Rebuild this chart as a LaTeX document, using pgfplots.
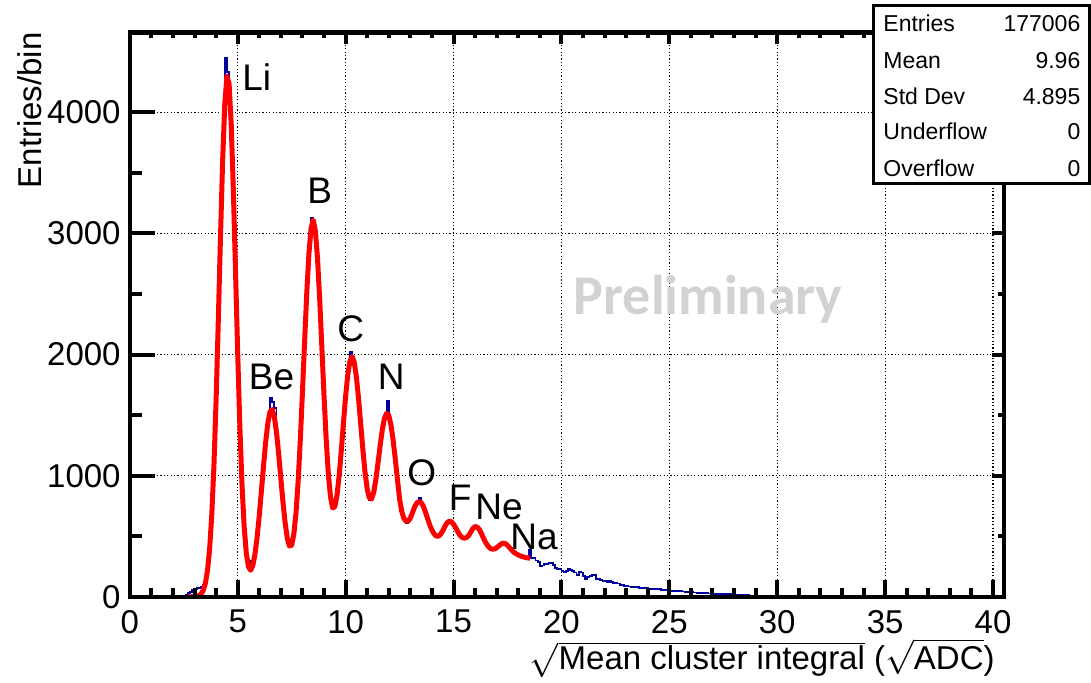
\documentclass[border=0pt]{standalone}
\usepackage{fontspec}
\setmainfont{Liberation Sans}
\newfontfamily\prelimfont{Carlito}
\usepackage{pgfplots}
\pgfplotsset{compat=1.18}

\definecolor{histblue}{RGB}{0,0,160}
\definecolor{prelimgray}{RGB}{210,210,210}

% 1 px of the reference = 0.5pt
\pgfplotsset{
  rootframe/.style={
    scale only axis, width=437pt, height=282.15pt,
    at={(64.9pt,43.1pt)}, anchor=south west,
    xmin=0, xmax=40.5, ymin=0, ymax=4659,
    axis line style={line width=2.2pt},
    tick style={line width=2pt, black},
    xtick={0,5,...,40}, ytick={0,1000,2000,3000,4000},
    minor x tick num=4, minor y tick num=1,
  },
  noticklabels/.style={xticklabels={}, yticklabels={}},
}

\begin{document}
\begin{tikzpicture}
\useasboundingbox (0,0) rectangle (545.5pt,341.5pt);

\begin{axis}[rootframe,
  grid=major,
  major grid style={black, line width=0.6pt, dash pattern=on 0.6pt off 1.1pt},
  major tick length=0pt, minor tick length=0pt,
  scaled y ticks=false,
  /pgf/number format/assume math mode=true,
  /pgf/number format/1000 sep={},
  tick label style={font=\fontsize{16.5}{19.8}\selectfont},
  xticklabel style={inner ysep=0pt, yshift=-6.5pt},
  yticklabel style={inner xsep=0pt, xshift=-4.4pt},
]
% histogram, bins of 0.1 (left edges)
\addplot[const plot, histblue, line width=0.9pt] coordinates {
(0,0) (2.5,5) (2.6,18) (2.7,30) (2.8,42) (2.9,55) (3.0,62) (3.1,70) (3.2,74) (3.3,80)
(3.4,95) (3.5,170) (3.6,300) (3.7,540) (3.8,890) (3.9,1370) (4.0,1960) (4.1,2600) (4.2,3290) (4.3,4020)
(4.4,4450) (4.5,4330) (4.6,4060) (4.7,3610) (4.8,3020) (4.9,2330) (5.0,1710) (5.1,1150) (5.2,760) (5.3,480)
(5.4,330) (5.5,300) (5.6,245) (5.7,310) (5.8,420) (5.9,580) (6.0,780) (6.1,990) (6.2,1200) (6.3,1370)
(6.4,1500) (6.5,1640) (6.6,1610) (6.7,1560) (6.8,1270) (6.9,1080) (7.0,870) (7.1,700) (7.2,545) (7.3,450)
(7.4,420) (7.5,470) (7.6,600) (7.7,820) (7.8,1120) (7.9,1480) (8.0,1900) (8.1,2300) (8.2,2680) (8.3,2950)
(8.4,3130) (8.5,3060) (8.6,2920) (8.7,2630) (8.8,2260) (8.9,1850) (9.0,1480) (9.1,1160) (9.2,920) (9.3,790)
(9.4,745) (9.5,780) (9.6,920) (9.7,1100) (9.8,1330) (9.9,1540) (10.0,1740) (10.1,1900) (10.2,2025) (10.3,1950)
(10.4,1880) (10.5,1720) (10.6,1540) (10.7,1320) (10.8,1120) (10.9,960) (11.0,850) (11.1,800) (11.2,830) (11.3,905)
(11.4,1030) (11.5,1170) (11.6,1320) (11.7,1420) (11.8,1500) (11.9,1620) (12.0,1460) (12.1,1360) (12.2,1220) (12.3,1050)
(12.4,880) (12.5,750) (12.6,670) (12.7,640) (12.8,610) (12.9,640) (13.0,665) (13.1,720) (13.2,760) (13.3,785)
(13.4,815) (13.5,760) (13.6,725) (13.7,670) (13.8,620) (13.9,570) (14.0,535) (14.1,510) (14.2,500) (14.3,505)
(14.4,530) (14.5,565) (14.6,600) (14.7,620) (14.8,630) (14.9,610) (15.0,585) (15.1,555) (15.2,520) (15.3,500)
(15.4,485) (15.5,486) (15.6,495) (15.7,520) (15.8,555) (15.9,575) (16.0,580) (16.1,565) (16.2,540) (16.3,500)
(16.4,462) (16.5,430) (16.6,410) (16.7,396) (16.8,395) (16.9,400) (17.0,412) (17.1,428) (17.2,440) (17.3,445)
(17.4,432) (17.5,415) (17.6,395) (17.7,376) (17.8,362) (17.9,350) (18.0,340) (18.1,334) (18.2,328) (18.3,324)
(18.4,320) (18.5,385) (18.6,320) (18.7,318) (18.8,300) (18.9,290) (19.0,256) (19.1,258) (19.2,272) (19.3,270)
(19.4,278) (19.5,280) (19.6,262) (19.7,240) (19.8,225) (19.9,228) (20.0,210) (20.1,208) (20.2,212) (20.3,228)
(20.4,222) (20.5,210) (20.6,200) (20.7,182) (20.8,205) (20.9,200) (21.0,170) (21.1,150) (21.2,165) (21.3,172)
(21.4,180) (21.5,182) (21.6,150) (21.7,145) (21.8,138) (21.9,130) (22.0,132) (22.1,124) (22.2,130) (22.3,120)
(22.4,115) (22.5,112) (22.6,110) (22.7,100) (22.8,96) (22.9,92) (23.0,88) (23.1,85) (23.2,82) (23.3,84)
(23.4,78) (23.5,78) (23.6,74) (23.7,72) (23.8,75) (23.9,70) (24.0,68) (24.1,66) (24.2,67) (24.3,63)
(24.4,62) (24.5,62) (24.6,58) (24.7,56) (24.8,56) (24.9,54) (25.0,52) (25.1,50) (25.2,52) (25.3,48)
(25.4,46) (25.5,46) (25.6,44) (25.7,42) (25.8,40) (25.9,40) (26.0,38) (26.1,36) (26.2,36) (26.3,34)
(26.4,32) (26.5,32) (26.6,30) (26.7,30) (26.8,28) (26.9,28) (27.0,26) (27.1,26) (27.2,25) (27.3,24)
(27.4,24) (27.5,22) (27.6,22) (27.7,21) (27.8,20) (27.9,20) (28.0,18) (28.1,18) (28.2,17) (28.3,16)
(28.4,15) (28.5,14) (28.6,12) (28.7,10) (28.8,8) (28.9,6) (29.0,4) (29.1,2) (29.2,0) (40.5,0)
};
% fit
\addplot[red, line width=2.5pt, line join=round] coordinates {
(2.7,0) (2.9,0.5) (3.0,1) (3.1,4) (3.2,9) (3.3,23) (3.4,52) (3.5,109)
(3.6,216) (3.7,397) (3.8,681) (3.9,1090) (4.0,1630) (4.1,2272) (4.2,2956) (4.3,3589) (4.4,4065) (4.5,4297)
(4.6,4238) (4.7,3900) (4.8,3349) (4.9,2683) (5.0,2009) (5.1,1406) (5.2,923) (5.3,577) (5.4,358) (5.5,247)
(5.6,219) (5.7,258) (5.8,351) (5.9,493) (6.0,672) (6.1,877) (6.2,1088) (6.3,1284) (6.4,1439) (6.5,1530)
(6.6,1546) (6.7,1484) (6.8,1354) (6.9,1175) (7.0,976) (7.1,778) (7.2,607) (7.3,481) (7.4,418) (7.5,426)
(7.6,515) (7.7,689) (7.8,951) (7.9,1291) (8.0,1687) (8.1,2107) (8.2,2506) (8.3,2833) (8.4,3045) (8.5,3110)
(8.6,3020) (8.7,2789) (8.8,2453) (8.9,2059) (9.0,1660) (9.1,1301) (9.2,1015) (9.3,825) (9.4,734) (9.5,743)
(9.6,837) (9.7,999) (9.8,1208) (9.9,1436) (10.0,1654) (10.1,1832) (10.2,1946) (10.3,1984) (10.4,1937) (10.5,1815)
(10.6,1636) (10.7,1426) (10.8,1215) (10.9,1030) (11.0,891) (11.1,816) (11.2,807) (11.3,860) (11.4,966) (11.5,1102)
(11.6,1247) (11.7,1379) (11.8,1473) (11.9,1515) (12.0,1497) (12.1,1421) (12.2,1296) (12.3,1140) (12.4,972) (12.5,810)
(12.6,705) (12.7,648) (12.8,623) (12.9,625) (13.0,650) (13.1,695) (13.2,742) (13.3,775) (13.4,786) (13.5,778)
(13.6,748) (13.7,700) (13.8,645) (13.9,592) (14.0,550) (14.1,520) (14.2,502) (14.3,500) (14.4,515) (14.5,545)
(14.6,580) (14.7,610) (14.8,624) (14.9,620) (15.0,600) (15.1,570) (15.2,537) (15.3,508) (15.4,490) (15.5,484)
(15.6,488) (15.7,505) (15.8,535) (15.9,565) (16.0,580) (16.1,575) (16.2,555) (16.3,520) (16.4,480) (16.5,445)
(16.6,418) (16.7,400) (16.8,393) (16.9,395) (17.0,405) (17.1,420) (17.2,435) (17.3,443) (17.4,440) (17.5,425)
(17.6,405) (17.7,385) (17.8,368) (17.9,355) (18.0,345) (18.1,337) (18.2,331) (18.3,326) (18.4,322) (18.55,319)
};
\begin{scope}[every node/.style={anchor=base west, inner sep=0pt, font=\fontsize{18.5}{22}\selectfont}]
\node at (axis cs:5.20,4183) {Li};
\node at (axis cs:5.50,1714) {Be};
\node at (axis cs:8.21,3248) {B};
\node at (axis cs:9.60,2106) {C};
\node at (axis cs:11.48,1714) {N};
\node at (axis cs:12.84,916) {O};
\node at (axis cs:14.77,714) {F};
\node at (axis cs:16.00,635) {Ne};
\node at (axis cs:17.62,394) {Na};
\end{scope}
\node[anchor=base west, inner sep=0pt, text=prelimgray,
  font=\prelimfont\bfseries\fontsize{28}{32}\selectfont] at (axis cs:20.56,2327) {Preliminary};
\end{axis}

% tick marks, ROOT style: different lengths on each side
\begin{axis}[rootframe, noticklabels, xtick=\empty, ytick pos=left,
  major tick length=12.5pt, minor tick length=6pt]
\end{axis}
\begin{axis}[rootframe, noticklabels, ytick=\empty, xtick pos=bottom,
  major tick length=8.5pt, minor tick length=4.5pt]
\end{axis}
\begin{axis}[rootframe, noticklabels, xtick pos=top, ytick pos=right,
  major tick length=6pt, minor tick length=3pt]
\end{axis}

% axis titles
\node[rotate=90, anchor=base east, inner sep=0pt, font=\fontsize{16.5}{19.8}\selectfont]
  at (20.85pt,325.5pt) {Entries/bin};
\node[anchor=base east, inner sep=0pt, font=\fontsize{16.5}{19.8}\selectfont]
  at (497.5pt,6.6pt) {$\sqrt{\mbox{Mean cluster integral}}$ ($\sqrt{\mbox{ADC}}$)};

% stats box
\draw[line width=1.5pt, fill=white] (436.5pt,338.75pt) rectangle (544.5pt,249.5pt);
\begin{scope}[font=\fontsize{11.5}{13.8}\selectfont, inner sep=0pt]
\node[anchor=base west] at (441.5pt,325.65pt) {Entries};
\node[anchor=base west] at (441.5pt,307.35pt) {Mean};
\node[anchor=base west] at (441.5pt,289.0pt) {Std Dev};
\node[anchor=base west] at (441.5pt,271.5pt) {Underflow};
\node[anchor=base west] at (441.5pt,253.15pt) {Overflow};
\node[anchor=base east] at (540.35pt,325.65pt) {177006};
\node[anchor=base east] at (540.35pt,307.35pt) {9.96};
\node[anchor=base east] at (540.35pt,289.0pt) {4.895};
\node[anchor=base east] at (540.35pt,271.5pt) {0};
\node[anchor=base east] at (540.35pt,253.15pt) {0};
\end{scope}
\end{tikzpicture}
\end{document}
